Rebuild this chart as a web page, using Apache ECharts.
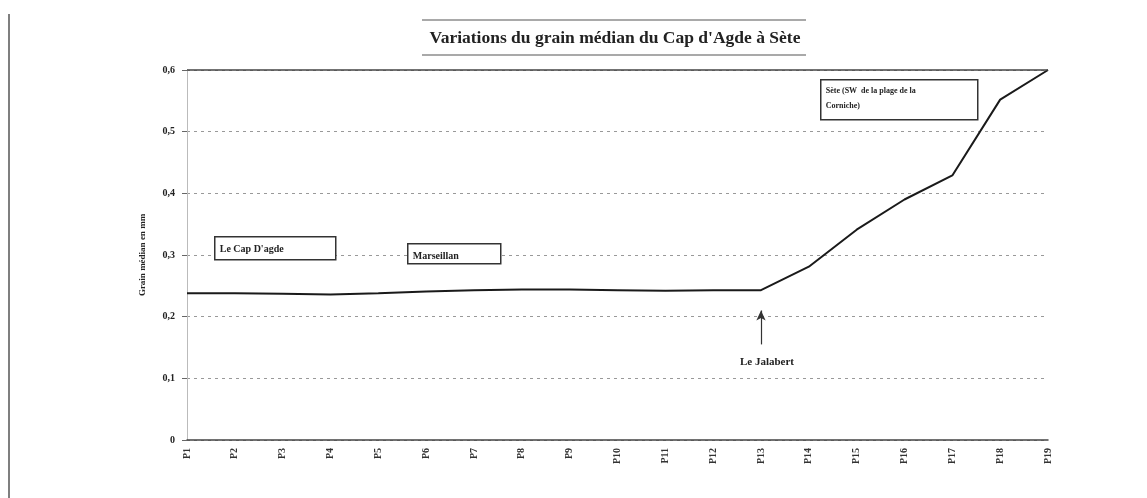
<!DOCTYPE html>
<html>
<head>
<meta charset="utf-8">
<script src="https://cdn.jsdelivr.net/npm/echarts@6/dist/echarts.min.js"></script>
<style>
  html, body { margin: 0; padding: 0; background: #fff; }
  #chart { width: 1147px; height: 498px; }
</style>
</head>
<body>
<div id="chart"></div>
<script>
// stations le long de la côte (libellés illisibles sur l'original)
const stations = ['P1', 'P2', 'P3', 'P4', 'P5', 'P6', 'P7', 'P8', 'P9', 'P10',
  'P11', 'P12', 'P13', 'P14', 'P15', 'P16', 'P17', 'P18', 'P19'];
// grain médian en mm
const grainMedian = [0.238, 0.238, 0.237, 0.236, 0.238, 0.241, 0.243, 0.244, 0.244, 0.243,
  0.242, 0.243, 0.243, 0.281, 0.341, 0.390, 0.429, 0.552, 0.600];
const jalabertIndex = 12;

const serif = '"Liberation Serif", "DejaVu Serif", serif';
const ink = '#222';

const chart = echarts.init(document.getElementById('chart'));

const boxLabel = (x, y, w, h, lines, size) => ({
  type: 'group',
  left: x,
  top: y,
  children: [
    {
      type: 'rect',
      shape: { x: 0, y: 0, width: w, height: h },
      style: { fill: '#fff', stroke: '#333', lineWidth: 1.5 },
      z: 10
    },
    {
      type: 'text',
      x: 5,
      y: 4,
      style: { text: lines, font: `bold ${size}px ${serif}`, fill: ink, lineHeight: size + 7 },
      z: 11
    }
  ]
});

chart.setOption({
  backgroundColor: '#fff',
  animation: false,
  grid: { left: 187, right: 99, top: 70, bottom: 58 },
  xAxis: {
    type: 'category',
    data: stations,
    boundaryGap: false,
    axisLine: { lineStyle: { color: '#444', width: 1.5 } },
    axisTick: { show: false },
    axisLabel: {
      rotate: 90,
      color: '#333',
      fontFamily: serif,
      fontWeight: 'bold',
      fontSize: 10,
      margin: 8,
      interval: 0
    }
  },
  yAxis: {
    type: 'value',
    min: 0,
    max: 0.6,
    interval: 0.1,
    name: 'Grain médian en mm',
    nameLocation: 'middle',
    nameGap: 40,
    nameTextStyle: { fontFamily: serif, fontWeight: 'bold', fontSize: 9, color: ink },
    axisLine: { show: true, lineStyle: { color: '#bbb', width: 1 } },
    axisTick: { show: true, length: 5, lineStyle: { color: '#666' } },
    axisLabel: {
      color: ink,
      fontFamily: serif,
      fontWeight: 'bold',
      fontSize: 10,
      margin: 12,
      formatter: v => String(Math.round(v * 10) / 10).replace('.', ',')
    },
    splitLine: { lineStyle: { color: '#999', type: [3, 4], width: 1 } }
  },
  series: [
    {
      type: 'line',
      data: grainMedian,
      symbol: 'none',
      lineStyle: { color: '#1a1a1a', width: 2 },
      markLine: {
        silent: true,
        symbol: 'none',
        label: { show: false },
        lineStyle: { color: '#333', type: 'solid', width: 1.2 },
        data: [
          // flèche "Le Jalabert"
          [
            { coord: [jalabertIndex, 0.155], symbol: 'none' },
            { coord: [jalabertIndex, 0.21], symbol: 'arrow', symbolSize: [7, 10] }
          ],
          // bordure haute du graphique
          { yAxis: 0.6, lineStyle: { color: '#444', width: 1.5, type: 'solid' } }
        ]
      }
    }
  ],
  graphic: [
    // trait vertical en bordure gauche
    { type: 'line', shape: { x1: 9, y1: 14, x2: 9, y2: 498 }, style: { stroke: '#555', lineWidth: 1.5 } },
    // titre encadré de deux traits
    { type: 'line', shape: { x1: 422, y1: 20, x2: 806, y2: 20 }, style: { stroke: '#555', lineWidth: 1.2 } },
    { type: 'line', shape: { x1: 422, y1: 55, x2: 806, y2: 55 }, style: { stroke: '#555', lineWidth: 1.2 } },
    {
      type: 'text',
      x: 615,
      y: 38,
      style: {
        text: "Variations du grain médian du Cap d'Agde à Sète",
        font: `bold 17.5px ${serif}`,
        fill: ink,
        textAlign: 'center',
        textVerticalAlign: 'middle'
      }
    },
    boxLabel(214, 236, 121, 23, "Le Cap D'agde", 10),
    boxLabel(407, 243, 93, 20, 'Marseillan', 10),
    boxLabel(820, 79, 157, 40, 'Sète (SW  de la plage de la\nCorniche)', 8),
    {
      type: 'text',
      x: 767,
      y: 362,
      style: {
        text: 'Le Jalabert',
        font: `bold 11px ${serif}`,
        fill: ink,
        textAlign: 'center',
        textVerticalAlign: 'middle'
      }
    }
  ]
});
</script>
</body>
</html>
